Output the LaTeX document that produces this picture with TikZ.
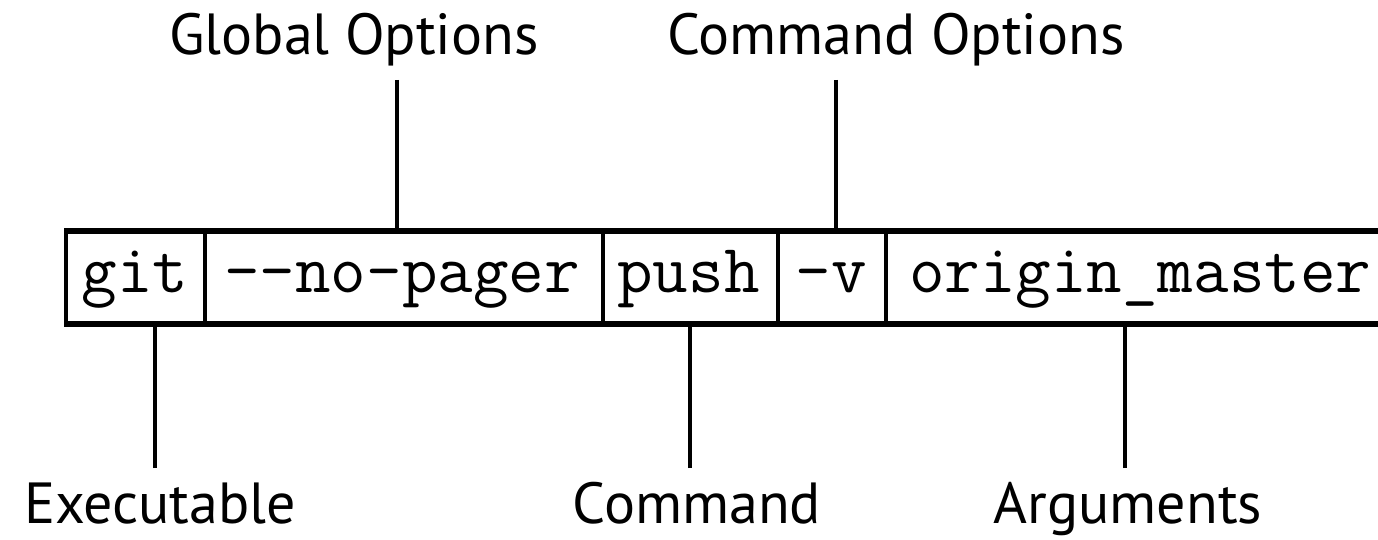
\documentclass[tikz,border=0pt]{standalone}
\usepackage{fontspec}
\newfontfamily\labfont{PT Sans}
\newfontfamily\codefont{Latin Modern Mono}
\begin{document}
\begin{tikzpicture}[x=1pt,y=-1pt,
  cellbox/.style={draw=black, line width=3.5pt, minimum height=91pt, inner sep=0pt, anchor=north west},
  codetext/.style={font=\codefont\fontsize{69}{69}\selectfont, inner sep=0pt},
  labtext/.style={font=\labfont\fontsize{58}{58}\selectfont, inner sep=0pt, anchor=base},
  conn/.style={line width=4pt}]
\useasboundingbox (0,0) rectangle (1378,540);
\clip (0,0) rectangle (1378,540);
% cells
\node[cellbox, minimum width=139pt] (cgit) at (64,230) {};
\node[cellbox, minimum width=398pt] (cpager) at (203,230) {};
\node[cellbox, minimum width=175pt] (cpush) at (601,230) {};
\node[cellbox, minimum width=108pt] (cv) at (776,230) {};
\node[cellbox, minimum width=560pt] (corigin) at (884,230) {};
\draw[line width=5pt] (cgit.north west) -- (corigin.north east);
\draw[line width=5pt] (cgit.south west) -- (corigin.south east);
% code text
\node[codetext, anchor=base] (tgit) at (135,292) {git};
\node[codetext, anchor=base] (tpager) at (402,292) {-{}-no-pager};
\node[codetext, anchor=base] (tpush) at (688.5,292) {push};
\node[codetext, anchor=base] (tv) at (831,292) {-v};
\node[codetext, anchor=base west] (torigin) at (909,292) {origin\_master};
% labels
\node[labtext] (lglobal) at (354,55) {Global Options};
\node[labtext] (lcmdopt) at (896,55) {Command Options};
\node[labtext] (lexec) at (160,523) {Executable};
\node[labtext] (lcmd) at (697,523) {Command};
\node[labtext] (largs) at (1128,523) {Arguments};
% connector ends
\coordinate (eglobal) at (397,80);
\coordinate (ecmdopt) at (836,80);
\coordinate (eexec) at (155,468);
\coordinate (ecmd) at (690,468);
\coordinate (eargs) at (1125,468);
\draw[conn] (eglobal) -- (eglobal |- cpager.north);
\draw[conn] (ecmdopt) -- (ecmdopt |- cv.north);
\draw[conn] (eexec) -- (eexec |- cgit.south);
\draw[conn] (ecmd) -- (ecmd |- cpush.south);
\draw[conn] (eargs) -- (eargs |- corigin.south);
\end{tikzpicture}
\end{document}
